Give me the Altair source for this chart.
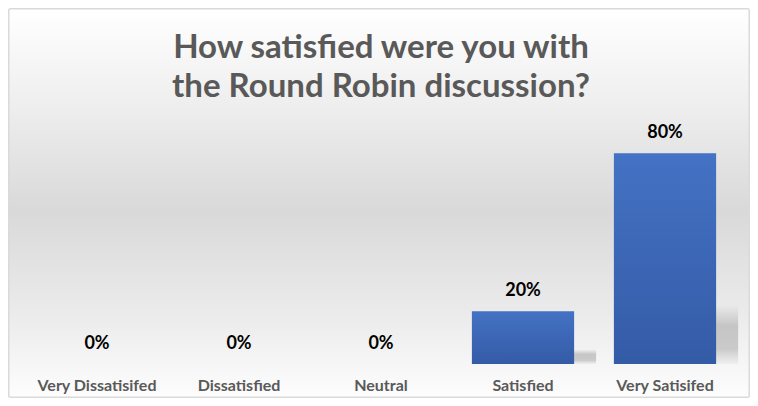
import altair as alt
import pandas as pd

categories = ["Very Dissatisifed", "Dissatisfied", "Neutral", "Satisfied", "Very Satisifed"]
shares = [0.0, 0.0, 0.0, 0.2, 0.8]
title_lines = ["How satisfied were you with", "the Round Robin discussion?"]

df = pd.DataFrame({"category": categories, "share": shares})

FONT = "Lato"

bg_grad = alt.Gradient(
    gradient="linear", x1=0, y1=0, x2=0, y2=1,
    stops=[alt.GradientStop(offset=0, color="#ffffff"),
           alt.GradientStop(offset=0.25, color="#eeeeee"),
           alt.GradientStop(offset=0.52, color="#d9d9d9"),
           alt.GradientStop(offset=0.8, color="#ececec"),
           alt.GradientStop(offset=1, color="#fdfdfd")])

bar_grad = alt.Gradient(
    gradient="linear", x1=0, y1=0, x2=0, y2=1,
    stops=[alt.GradientStop(offset=0, color="#4472c4"),
           alt.GradientStop(offset=1, color="#345ba6")])

shadow_grad = alt.Gradient(
    gradient="linear", x1=0, y1=0, x2=0, y2=1,
    stops=[alt.GradientStop(offset=0, color="rgba(190,190,190,0)"),
           alt.GradientStop(offset=0.35, color="rgba(190,190,190,0.85)"),
           alt.GradientStop(offset=0.75, color="rgba(195,195,195,0.85)"),
           alt.GradientStop(offset=1, color="rgba(210,210,210,0.2)")])

background = alt.Chart(df).mark_rect(fill=bg_grad, stroke="#d9d9d9", strokeWidth=1).encode(
    x=alt.value(-17), x2=alt.value(723), y=alt.value(-118), y2=alt.value(270)
)

xenc = alt.X("category:N", sort=categories,
             scale=alt.Scale(paddingInner=0.28, paddingOuter=0.14),
             axis=alt.Axis(title=None, labelAngle=0, ticks=False, domain=False,
                           labelFont=FONT, labelFontSize=16, labelFontWeight="bold",
                           labelColor="#595959", labelPadding=13, zindex=1))
yscale = alt.Scale(domain=[0, 0.9])
yenc = alt.Y("share:Q", scale=yscale, axis=None)

shadow = alt.Chart(df).transform_calculate(
    sh="datum.share * 0.28"
).mark_bar(fill=shadow_grad, xOffset=22).encode(
    x=xenc, y=alt.Y("sh:Q", scale=yscale, axis=None)
)

bars = alt.Chart(df).mark_bar(fill=bar_grad).encode(x=xenc, y=yenc)

labels = alt.Chart(df).mark_text(
    dy=-20, font=FONT, fontSize=18, fontWeight="bold", color="#000000"
).encode(x=xenc, y=yenc, text=alt.Text("share:Q", format=".0%"))

chart = alt.layer(background, shadow, bars, labels).properties(
    width=710, height=237,
    padding={"left": 18, "top": 119, "right": 14, "bottom": 34},
    autosize=alt.AutoSizeParams(type="none"),
    title=alt.TitleParams(title_lines, font=FONT, fontSize=33, fontWeight="bold",
                          color="#595959", anchor="middle", offset=-95, lineHeight=39,
                          zindex=1),
).configure_view(stroke=None)

chart.save("out.html", embed_options={"renderer": "svg", "actions": False})
